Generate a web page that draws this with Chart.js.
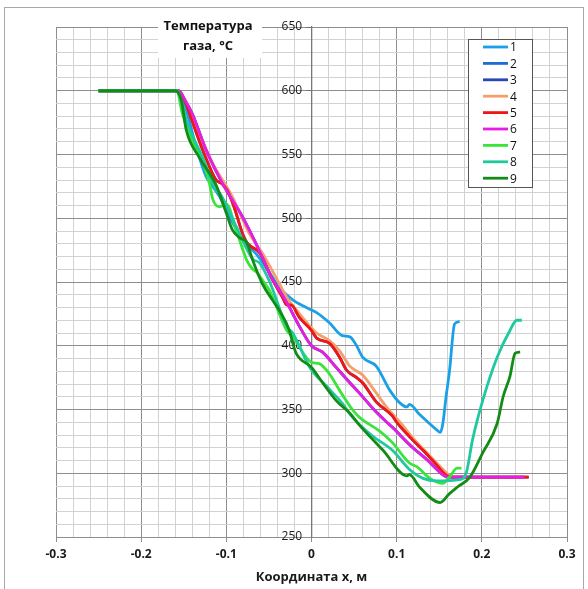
<!DOCTYPE html>
<html>
<head>
<meta charset="utf-8">
<script src="https://cdn.jsdelivr.net/npm/chart.js@4.4.1/dist/chart.umd.min.js"></script>
<style>
  html, body { margin: 0; padding: 0; background: #fff; }
  #wrap { position: relative; width: 588px; height: 589px; overflow: hidden; }
  #frame { position: absolute; left: 4px; top: 7px; width: 578px; height: 600px;
           border: 1px solid #a8a8a8; border-bottom: none; }
  canvas { position: absolute; left: 0; top: 0; }
</style>
</head>
<body>
<div id="wrap">
  <div id="frame"></div>
  <canvas id="chart" width="588" height="589"></canvas>
</div>
<script>
// Series names and tick labels
const seriesNames = ['1', '2', '3', '4', '5', '6', '7', '8', '9'];
const xTickLabels = ['-0.3', '-0.2', '-0.1', '0', '0.1', '0.2', '0.3'];
const yTickLabels = ['250', '300', '350', '400', '450', '500', '550', '600', '650'];

// Series 1
const s1x = [-0.25, -0.16, -0.152, -0.145, -0.135, -0.124, -0.116, -0.108, -0.096, -0.081, -0.065, -0.049, -0.038, -0.022, -0.006, 0, 0.006, 0.021, 0.036, 0.045, 0.053, 0.06, 0.076, 0.092, 0.104, 0.112, 0.115, 0.127, 0.147, 0.151, 0.154, 0.158, 0.162, 0.168, 0.174];
const s1y = [600, 600, 595, 580, 555, 533, 525, 517, 501, 483, 472, 457, 446, 436, 430, 428, 426, 418, 408, 407, 400, 391, 384, 365, 355, 352, 354, 346, 334, 332, 338, 360, 380, 417, 419];

// Series 2 (hidden under series 5)
const s2x = [-0.25, -0.157, -0.15, -0.14, -0.128, -0.112, -0.105, -0.099, -0.091, -0.081, -0.076, -0.069, -0.061, -0.046, -0.034, -0.029, -0.024, -0.014, 0, 0.006, 0.021, 0.033, 0.041, 0.053, 0.06, 0.076, 0.095, 0.1, 0.112, 0.119, 0.131, 0.145, 0.159, 0.166, 0.255];
const s2y = [600, 600, 594, 576, 554, 530, 527, 522, 509, 488, 481, 477, 473, 452, 438, 432, 432, 422, 412, 406, 402, 391, 381, 375, 371, 356, 345, 340, 331, 326, 318, 308, 298, 297, 297];

// Series 3 (hidden under series 6)
const s3x = [-0.25, -0.156, -0.148, -0.14, -0.124, -0.105, -0.081, -0.058, -0.046, -0.038, -0.029, -0.014, 0, 0.013, 0.029, 0.045, 0.056, 0.076, 0.095, 0.119, 0.135, 0.154, 0.16, 0.25];
const s3y = [600, 600, 592, 582, 554, 528, 501, 470, 452, 444, 434, 415, 400, 395, 383, 371, 363, 348, 336, 320, 311, 299, 297, 297];

// Series 4
const s4x = [-0.25, -0.157, -0.15, -0.14, -0.128, -0.116, -0.093, -0.073, -0.058, -0.038, -0.029, -0.014, 0.006, 0.021, 0.033, 0.045, 0.06, 0.076, 0.088, 0.104, 0.12, 0.14, 0.159, 0.166, 0.252];
const s4y = [600, 600, 595, 580, 560, 543, 517, 488, 473, 449, 438, 425, 410, 404, 396, 384, 377, 363, 352, 340, 327, 313, 300, 297, 297];

// Series 5
const s5x = [-0.25, -0.157, -0.15, -0.14, -0.128, -0.112, -0.105, -0.099, -0.091, -0.081, -0.076, -0.069, -0.061, -0.046, -0.034, -0.029, -0.024, -0.014, 0, 0.006, 0.021, 0.033, 0.041, 0.053, 0.06, 0.076, 0.095, 0.1, 0.112, 0.119, 0.131, 0.145, 0.159, 0.166, 0.255];
const s5y = [600, 600, 594, 576, 554, 530, 527, 522, 509, 488, 481, 477, 473, 452, 438, 432, 432, 422, 412, 406, 402, 391, 381, 375, 371, 356, 345, 340, 331, 326, 318, 308, 298, 297, 297];

// Series 6
const s6x = [-0.25, -0.156, -0.148, -0.14, -0.124, -0.105, -0.081, -0.058, -0.046, -0.038, -0.029, -0.014, 0, 0.013, 0.029, 0.045, 0.056, 0.076, 0.095, 0.119, 0.135, 0.154, 0.16, 0.25];
const s6y = [600, 600, 592, 582, 554, 528, 501, 470, 452, 444, 434, 415, 400, 395, 383, 371, 363, 348, 336, 320, 311, 299, 297, 297];

// Series 7
const s7x = [-0.25, -0.158, -0.152, -0.14, -0.128, -0.12, -0.116, -0.108, -0.1, -0.088, -0.076, -0.069, -0.065, -0.053, -0.049, -0.029, -0.022, 0, 0.009, 0.021, 0.033, 0.048, 0.056, 0.08, 0.095, 0.115, 0.124, 0.139, 0.154, 0.162, 0.171, 0.176];
const s7y = [600, 600, 583, 560, 545, 528, 515, 509, 511, 490, 467, 460, 458, 447, 443, 412, 407, 387, 386, 378, 365, 350, 344, 333, 324, 308, 305, 296, 292, 297, 304, 304];

// Series 8
const s8x = [-0.25, -0.158, -0.15, -0.147, -0.128, -0.112, -0.108, -0.088, -0.069, -0.061, -0.049, -0.029, -0.022, -0.018, -0.002, 0.018, 0.036, 0.048, 0.072, 0.095, 0.115, 0.131, 0.147, 0.174, 0.182, 0.189, 0.201, 0.218, 0.233, 0.241, 0.247];
const s8y = [600, 600, 585, 577, 548, 522, 520, 493, 468, 465, 450, 415, 410, 405, 383, 368, 355, 344, 329, 318, 303, 296, 294, 295, 301, 326, 357, 391, 412, 420, 420];

// Series 9
const s9x = [-0.25, -0.16, -0.153, -0.147, -0.132, -0.112, -0.1, -0.093, -0.085, -0.076, -0.069, -0.058, -0.046, -0.038, -0.026, -0.022, -0.018, 0, 0.013, 0.029, 0.045, 0.056, 0.084, 0.112, 0.115, 0.127, 0.151, 0.162, 0.171, 0.186, 0.201, 0.218, 0.225, 0.233, 0.239, 0.245];
const s9y = [600, 600, 593, 569, 548, 526, 504, 491, 485, 481, 467, 449, 436, 428, 412, 402, 394, 383, 371, 357, 347, 338, 318, 298, 299, 289, 277, 284, 289, 297, 316, 339, 360, 376, 394, 395];

const seriesX = [s1x, s2x, s3x, s4x, s5x, s6x, s7x, s8x, s9x];
const seriesY = [s1y, s2y, s3y, s4y, s5y, s6y, s7y, s8y, s9y];
const colors = ['#1aa0e6', '#1c6fd2', '#2b44b8', '#f5a06c', '#f41414', '#e61ee0', '#3ae43a', '#1ec9a0', '#138c16'];

Chart.defaults.font.family = '"Open Sans", "Liberation Sans", sans-serif';
Chart.defaults.color = '#1a1a1a';

const datasets = seriesNames.map((name, i) => ({
  label: name,
  data: seriesX[i].map((x, k) => ({ x, y: seriesY[i][k] })),
  borderColor: colors[i],
  backgroundColor: colors[i],
  borderWidth: 2.8,
  pointRadius: 0,
  fill: false,
  cubicInterpolationMode: 'monotone',
  order: seriesNames.length - 1 - i   // later series drawn on top
}));

const MAJOR = '#8e8e8e';
const MINOR = '#d2d2d2';
const NONE = 'rgba(0,0,0,0)';

// Title box + boxed legend
const overlay = {
  id: 'overlay',
  afterDraw(chart) {
    const ctx = chart.ctx;
    ctx.save();
    ctx.fillStyle = '#fff';
    ctx.fillRect(158, 16, 104, 42);
    ctx.fillStyle = '#111';
    ctx.font = 'bold 13px "Open Sans", "Liberation Sans", sans-serif';
    ctx.textAlign = 'center';
    ctx.textBaseline = 'middle';
    ctx.fillText('Температура', 208, 26);
    ctx.fillText('газа, °C', 208, 46);

    ctx.fillStyle = '#fff';
    ctx.fillRect(468, 39, 64, 148);
    ctx.strokeStyle = '#555';
    ctx.lineWidth = 1;
    ctx.strokeRect(468.5, 39.5, 64, 148);
    ctx.font = '12px "Open Sans", "Liberation Sans", sans-serif';
    ctx.textAlign = 'left';
    chart.data.datasets.forEach((ds, i) => {
      const y = 47 + i * 16.4;
      ctx.strokeStyle = ds.borderColor;
      ctx.lineWidth = 2.8;
      ctx.beginPath();
      ctx.moveTo(483, y);
      ctx.lineTo(508, y);
      ctx.stroke();
      ctx.fillStyle = '#111';
      ctx.fillText(ds.label, 510, y + 1);
    });
    ctx.restore();
  }
};

new Chart(document.getElementById('chart'), {
  type: 'line',
  data: { datasets },
  options: {
    responsive: false,
    animation: false,
    layout: { padding: { left: 56, right: 21, top: 27, bottom: 0 } },
    plugins: { legend: { display: false }, tooltip: { enabled: false } },
    scales: {
      x: {
        type: 'linear',
        min: -0.3,
        max: 0.3,
        afterFit: scale => { scale.height = 52; },
        ticks: {
          stepSize: 0.02,
          autoSkip: false,
          maxRotation: 0,
          padding: 5,
          font: { size: 12, weight: 'bold' },
          callback: (v, i) => (i % 5 === 0 ? xTickLabels[i / 5] : '')
        },
        grid: {
          color: c => (c.index % 5 === 0 ? MAJOR : MINOR),
          tickColor: c => (c.index % 5 === 0 ? MAJOR : NONE),
          tickLength: 5
        },
        border: { color: MAJOR },
        title: {
          display: true,
          text: 'Координата x, м',
          font: { size: 13, weight: 'bold' },
          padding: { top: 4, bottom: 4 }
        }
      },
      y: {
        type: 'linear',
        axis: 'y',
        position: { x: 0 },
        min: 250,
        max: 650,
        ticks: {
          stepSize: 10,
          autoSkip: false,
          font: { size: 12 },
          // trailing spaces keep the labels clear of the centred axis line
          callback: (v, i) => (i % 5 === 0 ? yTickLabels[i / 5] + '   ' : '')
        },
        grid: {
          color: c => (c.index % 5 === 0 ? MAJOR : MINOR),
          tickColor: c => (c.index % 5 === 0 ? '#707070' : NONE),
          tickLength: 5
        },
        border: { color: '#777', width: 1.3 }
      }
    }
  },
  plugins: [overlay]
});
</script>
</body>
</html>
